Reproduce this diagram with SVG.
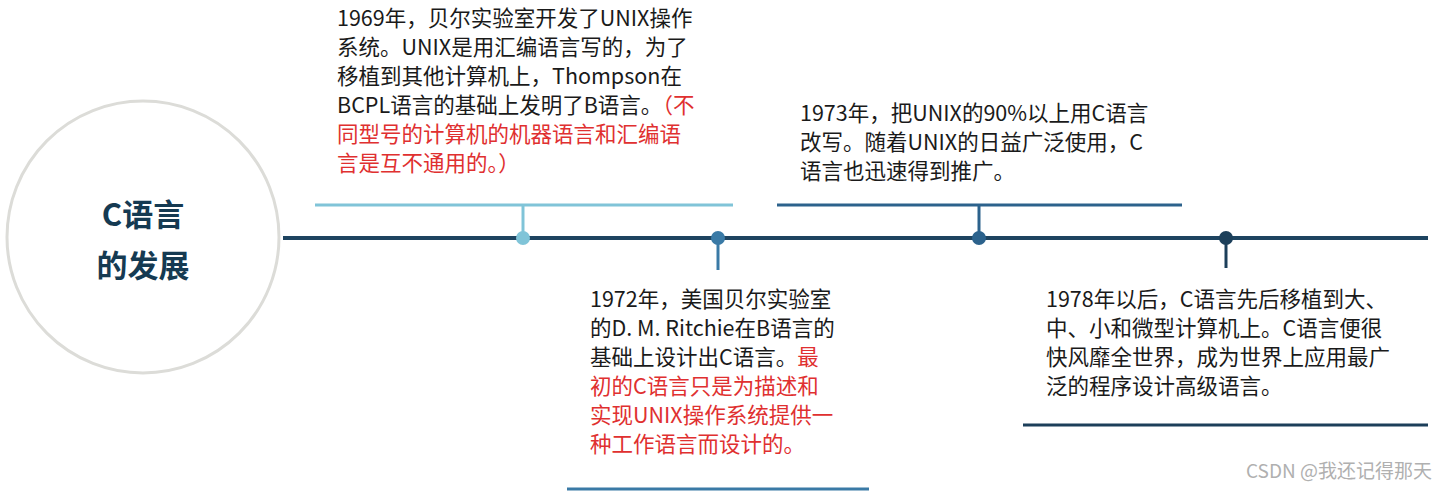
<svg xmlns="http://www.w3.org/2000/svg" width="1439" height="499" viewBox="0 0 1439 499">
<style>
.t{font-family:"Noto Sans CJK SC","Noto Sans",sans-serif;font-size:21.5px;fill:#1a1a1a}
.r{fill:#e03030}
.title{font-family:"Noto Sans CJK SC",sans-serif;font-size:31px;font-weight:bold;fill:#153a52;text-anchor:middle}
</style>
<rect width="1439" height="499" fill="#fff"/>
<g id="connectors" stroke-width="3" fill="none">
<line x1="283" y1="238" x2="1428" y2="238" stroke="#1e4460" stroke-width="4"/>
<line x1="315" y1="205" x2="733" y2="205" stroke="#80c4d8"/>
<line x1="523" y1="205" x2="523" y2="238" stroke="#80c4d8"/>
<line x1="718" y1="238" x2="718" y2="270" stroke="#3a7aa6"/>
<line x1="567" y1="489" x2="869" y2="489" stroke="#3a7aa6"/>
<line x1="777" y1="205" x2="1182" y2="205" stroke="#2c628c"/>
<line x1="979" y1="205" x2="979" y2="238" stroke="#2c628c"/>
<line x1="1226" y1="238" x2="1226" y2="268" stroke="#1c3f5a"/>
<line x1="1023" y1="425" x2="1428" y2="425" stroke="#1c3f5a"/>
</g>
<g id="title"><circle cx="143" cy="237" r="136" fill="#fff" stroke="#dcdcd8" stroke-width="3"/>
<text class="title" x="143" y="226">C语言</text><text class="title" x="143" y="277">的发展</text></g>
<g id="n1"><circle cx="523" cy="238" r="7" fill="#80c4d8"/>
<text class="t" x="337"><tspan x="337" y="26">1969年，贝尔实验室开发了UNIX操作</tspan><tspan x="337" y="55">系统。UNIX是用汇编语言写的，为了</tspan><tspan x="337" y="84">移植到其他计算机上，Thompson在</tspan><tspan x="337" y="113">BCPL语言的基础上发明了B语言。<tspan class="r">（不</tspan></tspan><tspan class="r" x="337" y="142">同型号的计算机的机器语言和汇编语</tspan><tspan class="r" x="337" y="171">言是互不通用的。）</tspan></text></g>
<g id="n2"><circle cx="718" cy="238" r="7" fill="#3a7aa6"/>
<text class="t"><tspan x="590" y="307">1972年，美国贝尔实验室</tspan><tspan x="590" y="336">的D. M. Ritchie在B语言的</tspan><tspan x="590" y="365">基础上设计出C语言。<tspan class="r">最</tspan></tspan><tspan class="r" x="590" y="394">初的C语言只是为描述和</tspan><tspan class="r" x="590" y="423">实现UNIX操作系统提供一</tspan><tspan class="r" x="590" y="452">种工作语言而设计的。</tspan></text></g>
<g id="n3"><circle cx="979" cy="238" r="7" fill="#2c628c"/>
<text class="t"><tspan x="800" y="121">1973年，把UNIX的90%以上用C语言</tspan><tspan x="800" y="150">改写。随着UNIX的日益广泛使用，C</tspan><tspan x="800" y="179">语言也迅速得到推广。</tspan></text></g>
<g id="n4"><circle cx="1226" cy="238" r="7" fill="#1c3f5a"/>
<text class="t"><tspan x="1046" y="307">1978年以后，C语言先后移植到大、</tspan><tspan x="1046" y="336">中、小和微型计算机上。C语言便很</tspan><tspan x="1046" y="365">快风靡全世界，成为世界上应用最广</tspan><tspan x="1046" y="394">泛的程序设计高级语言。</tspan></text></g>
<text x="1432" y="478" text-anchor="end" font-family="Noto Sans CJK SC,sans-serif" font-size="19" fill="#b0b0b0">CSDN @我还记得那天</text>
</svg>
